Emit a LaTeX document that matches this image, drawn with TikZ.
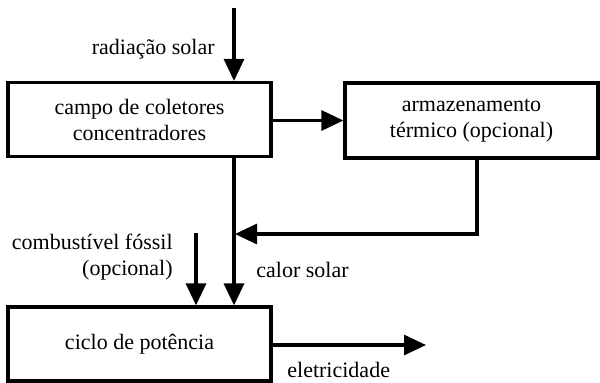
\documentclass[tikz,border=0pt]{standalone}
\usepackage{fontspec}
\setmainfont{Liberation Serif}
\usetikzlibrary{arrows.meta}
\begin{document}
\begin{tikzpicture}[x=0.5pt,y=-0.5pt,
  box/.style={draw,line width=1.6pt,inner sep=0pt,font=\fontsize{11}{13}\selectfont,align=center},
  flow/.style={line width=1.6pt,-{Triangle[length=11pt,width=10pt]}},
  lbl/.style={font=\fontsize{11}{13}\selectfont,inner sep=0pt}]
\useasboundingbox (0,0) rectangle (600,382);
\node[box,minimum width=131.5pt,minimum height=37pt] (c) at (139.5,119.5) {campo de coletores\\concentradores};
\node[box,minimum width=126.5pt,minimum height=37.5pt] (a) at (471.5,120.5) {armazenamento\\térmico (opcional)};
\node[box,minimum width=131.5pt,minimum height=37pt] (p) at (139.5,344) {ciclo de potência};
\coordinate (top) at (234,8);
\coordinate (cb) at (234,157);
\coordinate (ab) at (477,158);
\coordinate (ac) at (477,234);
\coordinate (jn) at (235,234);
\coordinate (fs) at (196,233);
\coordinate (out) at (426,345);
\draw[flow] (top) -- (c.north -| top);
\draw[flow] (c.east |- a) -- (a.west);
\draw[flow] (cb) -- (p.north -| cb);
\draw[flow,line join=miter] (ab) -- (ac) -- (jn);
\draw[flow] (fs) -- (p.north -| fs);
\draw[flow] (p.east |- out) -- (out);
\node[lbl,anchor=east] (l1) at (215,49) {radiação solar};
\node[lbl,anchor=east,align=right] (l2) at (173,257) {combustível fóssil\\(opcional)};
\node[lbl,anchor=west] (l3) at (256,270) {calor solar};
\node[lbl,anchor=west] (l4) at (287,370) {eletricidade};
\end{tikzpicture}
\end{document}
